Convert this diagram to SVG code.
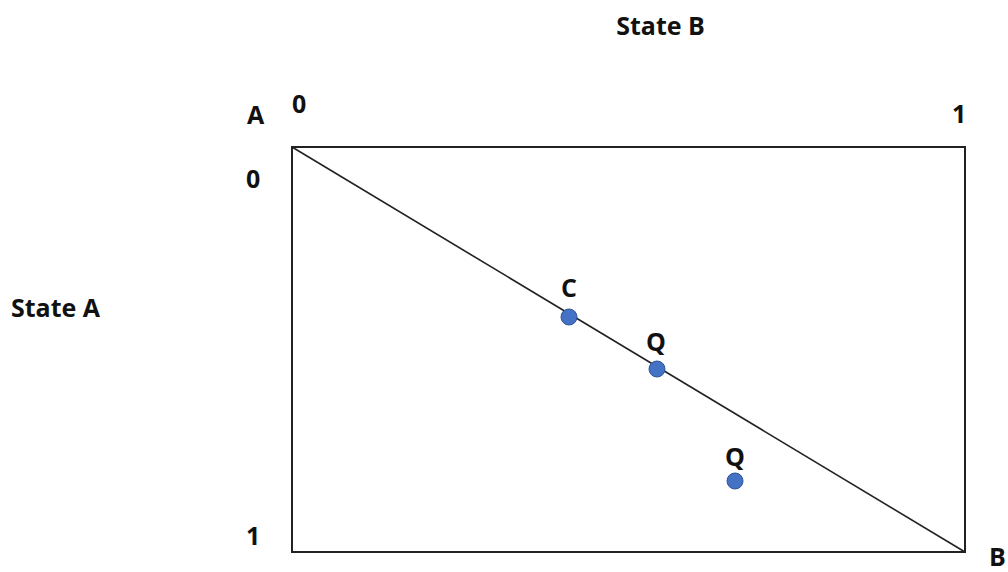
<svg xmlns="http://www.w3.org/2000/svg" width="1008" height="572" viewBox="0 0 1008 572">
<style>
text{font-family:"Open Sans","Liberation Sans",sans-serif;font-weight:bold;fill:#111;font-size:25px}
.dot{fill:#4472c4;stroke:#2f5597;stroke-width:1}
</style>
<rect width="1008" height="572" fill="#fff"/>
<g id="frame">
<rect x="292" y="147" width="673" height="405" fill="none" stroke="#222" stroke-width="2"/>
</g>
<g id="connectors">
<line x1="292" y1="147" x2="965" y2="552" stroke="#222" stroke-width="1.6"/>
</g>
<g id="labels">
<text x="660.5" y="35" text-anchor="middle">State B</text>
<text x="11" y="317">State A</text>
<text x="247" y="124">A</text>
<text x="292" y="113">0</text>
<text x="952" y="123">1</text>
<text x="246" y="188">0</text>
<text x="246" y="545">1</text>
<text x="989" y="566" font-size="24">B</text>
</g>
<g id="C"><circle class="dot" cx="569" cy="317" r="8"/><text x="569" y="297" text-anchor="middle">C</text></g>
<g id="Q1"><circle class="dot" cx="657" cy="369" r="8"/><text x="656" y="351" text-anchor="middle">Q</text></g>
<g id="Q2"><circle class="dot" cx="735" cy="481" r="8"/><text x="735" y="466" text-anchor="middle">Q</text></g>
</svg>
